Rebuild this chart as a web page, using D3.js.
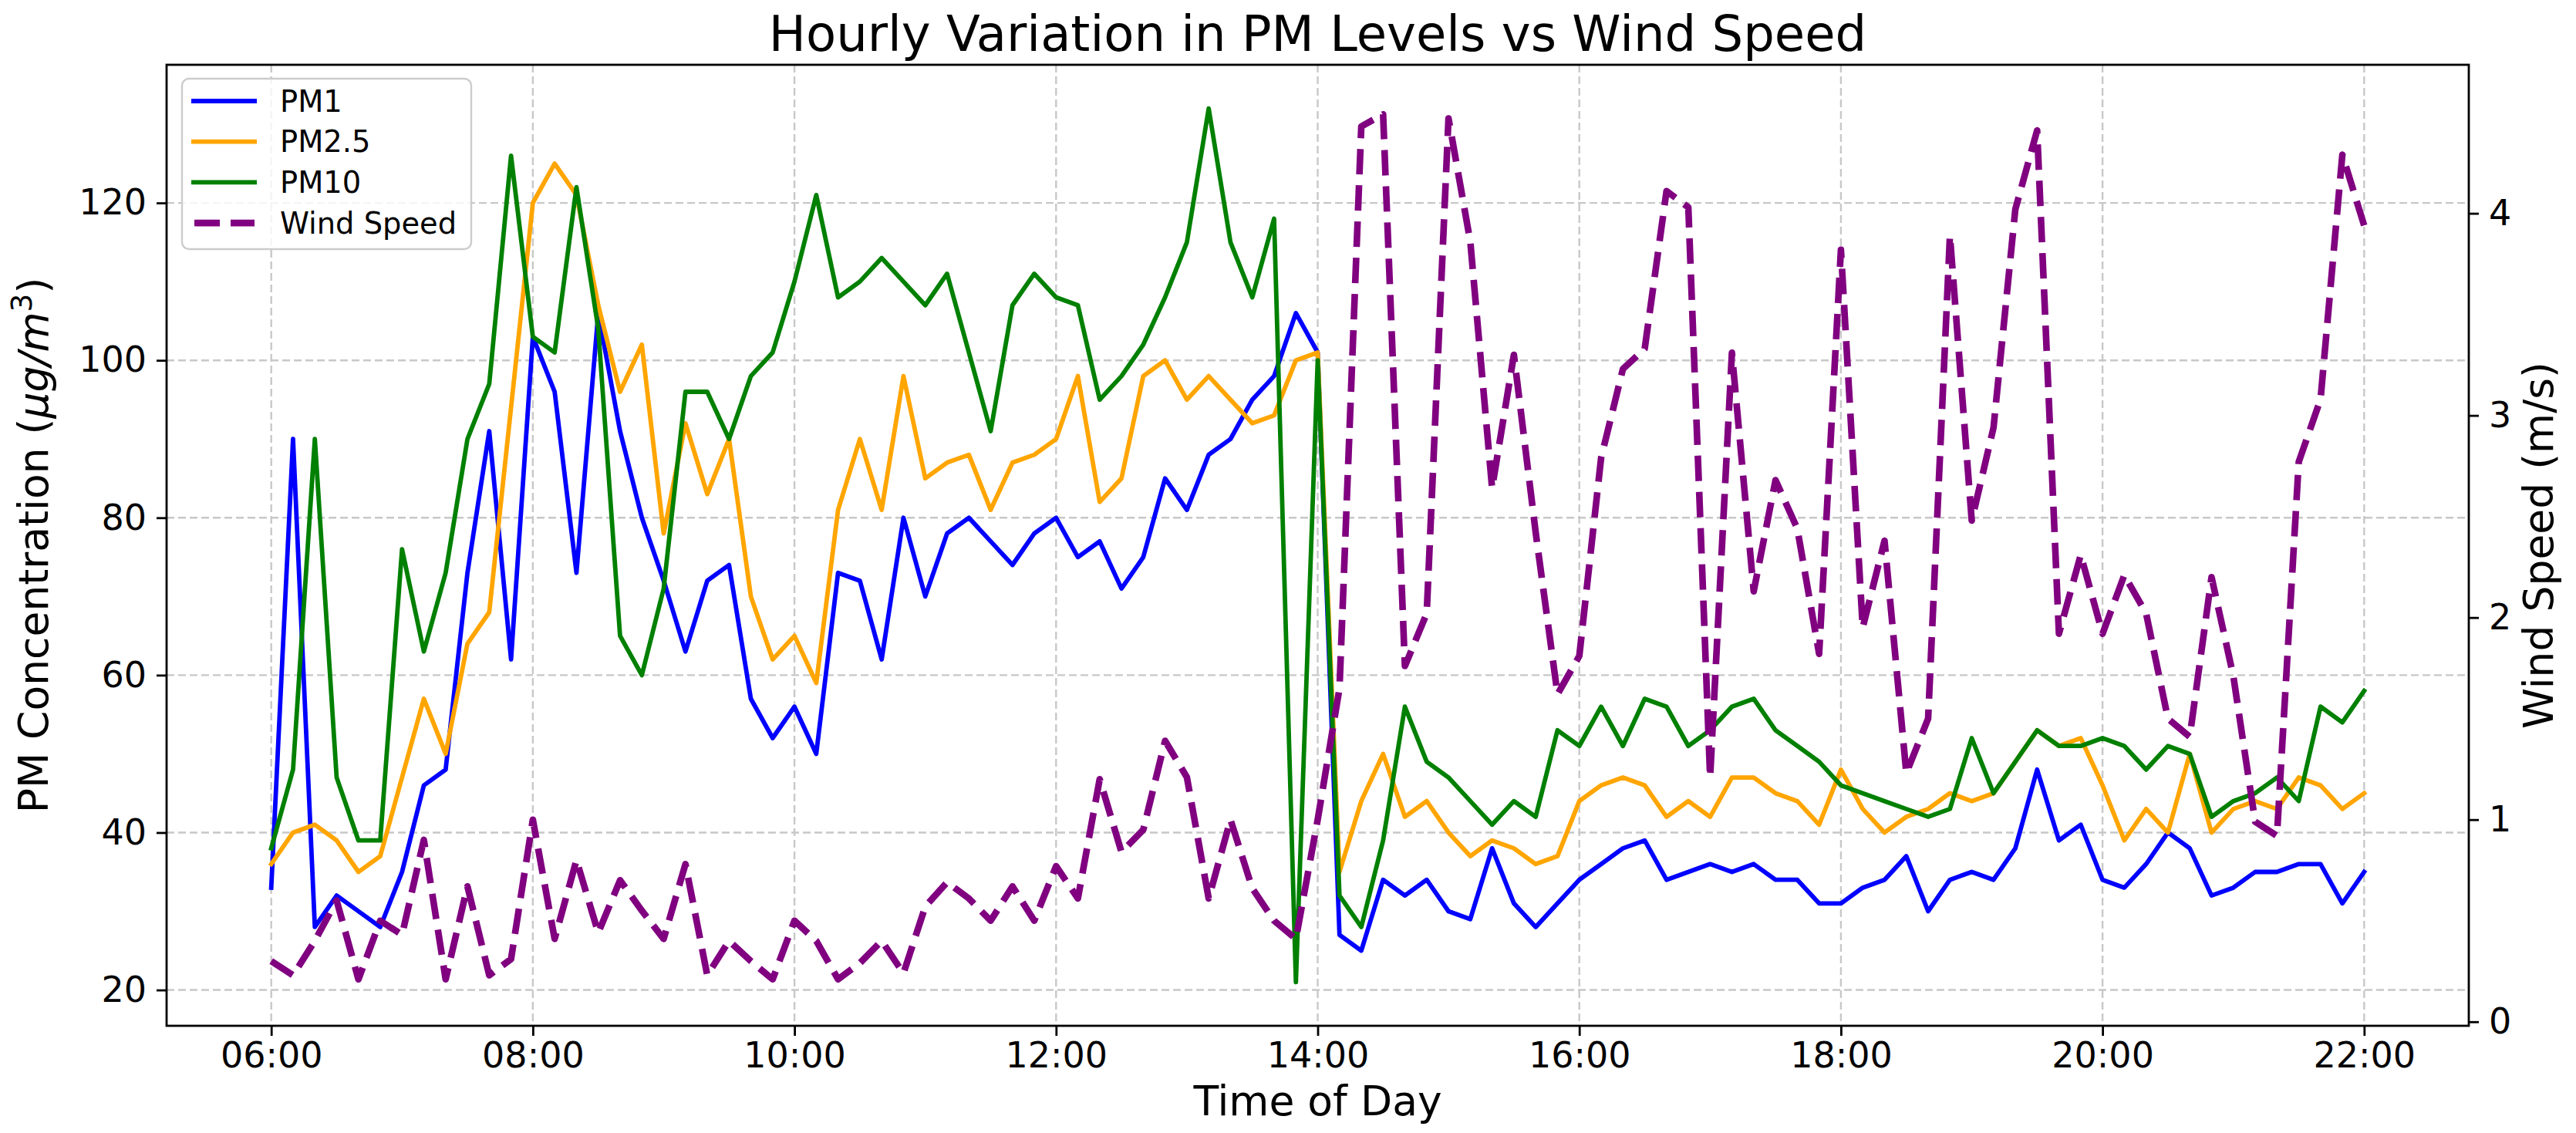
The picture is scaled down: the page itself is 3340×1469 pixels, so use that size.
<!DOCTYPE html>
<html><head><meta charset="utf-8">
<script src="https://cdn.jsdelivr.net/npm/d3@7"></script>
<style>html,body{margin:0;padding:0;background:#fff;} svg{display:block;font-family:"DejaVu Sans",sans-serif;}</style>
</head><body><svg id="c" width="3340" height="1469"></svg>
<script>
// ---- data (10-minute readings from 06:00 to 22:00) ----
const startTime = "06:00";
const stepMinutes = 10;
const xTickLabels = ["06:00","08:00","10:00","12:00","14:00","16:00","18:00","20:00","22:00"];
const leftTicks = [20,40,60,80,100,120];
const rightTicks = [0,1,2,3,4];
const seriesNames = ["PM1","PM2.5","PM10","Wind Speed"];
const pm1 = [33,90,28,32,30,28,35,46,48,73,91,62,103,
  96,73,106,91,80,72,63,72,74,57,52,56,
  50,73,72,62,80,70,78,80,77,74,78,80,
  75,77,71,75,85,81,88,90,95,98,106,101,
  27,25,34,32,34,30,29,38,31,28,31,34,
  36,38,39,34,35,36,35,36,34,34,31,31,
  33,34,37,30,34,35,34,38,48,39,41,34,
  33,36,40,38,32,33,35,35,36,36,31,35];
const pm25 = [36,40,41,39,35,37,47,57,50,64,68,94,120,
  125,121,107,96,102,78,92,83,90,70,62,65,
  59,81,90,81,98,85,87,88,81,87,88,90,
  98,82,85,98,100,95,98,95,92,93,100,101,
  35,44,50,42,44,40,37,39,38,36,37,44,
  46,47,46,42,44,42,47,47,45,44,41,48,
  43,40,42,43,45,44,45,49,53,51,52,46,
  39,43,40,50,40,43,44,43,47,46,43,45];
const pm10 = [38,48,90,47,39,39,76,63,73,90,97,126,103,
  101,122,104,65,60,71,96,96,90,98,101,110,
  121,108,110,113,110,107,111,101,91,107,111,108,
  107,95,98,102,108,115,132,115,108,118,21,100,
  32,28,39,56,49,47,44,41,44,42,53,51,
  56,51,57,56,51,53,56,57,53,51,49,46,
  45,44,43,42,43,52,45,49,53,51,51,52,
  51,48,51,50,42,44,45,47,44,56,54,58];
const wind = [0.30,0.23,0.40,0.60,0.21,0.50,0.43,0.90,0.21,0.67,0.23,0.31,1.00,
  0.41,0.80,0.44,0.70,0.55,0.41,0.78,0.23,0.40,0.30,0.21,0.50,
  0.40,0.21,0.29,0.40,0.24,0.57,0.69,0.61,0.50,0.67,0.50,0.77,
  0.61,1.20,0.84,0.95,1.39,1.21,0.61,1.00,0.66,0.50,0.41,1.00,
  1.65,4.43,4.49,1.76,2.02,4.47,3.86,2.64,3.30,2.42,1.62,1.81,
  2.79,3.23,3.33,4.11,4.03,1.21,3.31,2.13,2.68,2.44,1.82,3.82,
  1.95,2.38,1.23,1.50,3.89,2.48,2.94,4.02,4.41,1.92,2.31,1.92,
  2.21,2.02,1.50,1.41,2.20,1.71,0.99,0.92,2.77,3.08,4.29,3.94];
const rightDomain = [-0.02, 4.735];

// ---- layout ----
const L = 216, R = 3201, T = 84, B = 1330;
const colors = {"PM1":"#0000ff","PM2.5":"#ffa500","PM10":"#008000","Wind Speed":"#800080"};
const FT = 46, FL = 53.5, FTitle = 64, FLeg = 38.4;

const parse = d3.timeParse("%H:%M");
const t0 = parse(startTime);
const times = pm1.map((_, i) => d3.timeMinute.offset(t0, i * stepMinutes));
const tEnd = times[times.length - 1];
const span = tEnd - t0;
const x = d3.scaleTime().domain([new Date(+t0 - span*0.05), new Date(+tEnd + span*0.05)]).range([L, R]);
const allPM = pm1.concat(pm25, pm10);
const [mn, mx] = d3.extent(allPM);
const yL = d3.scaleLinear().domain([mn - (mx-mn)*0.05, mx + (mx-mn)*0.05]).range([B, T]);
const yR = d3.scaleLinear().domain(rightDomain).range([B, T]);

const svg = d3.select("#c");
svg.append("rect").attr("width",3340).attr("height",1469).attr("fill","#fff");

// grid
const grid = svg.append("g").attr("stroke","#c8c8c8").attr("stroke-width",2.4).attr("stroke-dasharray","10,5");
grid.selectAll("line.h").data(leftTicks).join("line").attr("class","h")
  .attr("x1",L).attr("x2",R).attr("y1",d=>yL(d)).attr("y2",d=>yL(d));
grid.selectAll("line.v").data(xTickLabels).join("line").attr("class","v")
  .attr("y1",T).attr("y2",B).attr("x1",d=>x(parse(d))).attr("x2",d=>x(parse(d)));

// lines
const lineL = d3.line().x((d,i)=>x(times[i])).y(d=>yL(d));
const lineR = d3.line().x((d,i)=>x(times[i])).y(d=>yR(d));
const plot = svg.append("g");
[["PM1",pm1],["PM2.5",pm25],["PM10",pm10]].forEach(([n,arr])=>{
  plot.append("path").attr("d",lineL(arr)).attr("fill","none").attr("stroke",colors[n])
    .attr("stroke-width",5.8).attr("stroke-linejoin","round").attr("stroke-linecap","square");
});
plot.append("path").attr("d",lineR(wind)).attr("fill","none").attr("stroke",colors["Wind Speed"])
  .attr("stroke-width",8.6).attr("stroke-dasharray","33,14").attr("stroke-linejoin","round");

// axes
function styleAxis(g){
  g.select(".domain").remove();
  g.selectAll(".tick line").attr("stroke","#000").attr("stroke-width",2.8);
  g.selectAll(".tick text").attr("font-size",FT).attr("fill","#000").attr("font-family","DejaVu Sans");
}
svg.append("g").attr("transform",`translate(0,${B})`)
  .call(d3.axisBottom(x).tickValues(xTickLabels.map(parse)).tickFormat(d3.timeFormat("%H:%M")).tickSize(13).tickPadding(8))
  .call(styleAxis);
svg.append("g").attr("transform",`translate(${L},0)`)
  .call(d3.axisLeft(yL).tickValues(leftTicks).tickFormat(d3.format("d")).tickSize(13).tickPadding(13))
  .call(styleAxis);
svg.append("g").attr("transform",`translate(${R},0)`)
  .call(d3.axisRight(yR).tickValues(rightTicks).tickFormat(d3.format("d")).tickSize(13).tickPadding(13))
  .call(styleAxis);

// spines
svg.append("rect").attr("x",L).attr("y",T).attr("width",R-L).attr("height",B-T)
  .attr("fill","none").attr("stroke","#000").attr("stroke-width",2.8);

// labels
svg.append("text").attr("x",(L+R)/2).attr("y",66).attr("text-anchor","middle").attr("font-size",FTitle)
  .text("Hourly Variation in PM Levels vs Wind Speed");
svg.append("text").attr("x",(L+R)/2).attr("y",1446).attr("text-anchor","middle").attr("font-size",FL)
  .text("Time of Day");
const ll = svg.append("text").attr("transform",`translate(62,${(T+B)/2}) rotate(-90)`).attr("text-anchor","middle").attr("font-size",FL);
ll.append("tspan").text("PM Concentration (");
ll.append("tspan").attr("font-style","italic").text("μg/m");
ll.append("tspan").attr("font-size",FL*0.7).attr("dy",-FL*0.4).text("3");
ll.append("tspan").attr("dy",FL*0.4).text(")");
svg.append("text").attr("transform",`translate(3310,${(T+B)/2}) rotate(-90)`).attr("text-anchor","middle").attr("font-size",FL)
  .text("Wind Speed (m/s)");

// legend
const lg = svg.append("g");
lg.append("rect").attr("x",236).attr("y",102).attr("width",375).attr("height",221).attr("rx",9)
  .attr("fill","#fff").attr("fill-opacity",0.8).attr("stroke","#cccccc").attr("stroke-width",2.4);
seriesNames.forEach((n,i)=>{
  const cy = 131 + i*52.7;
  const ln = lg.append("line").attr("x1",248).attr("x2",333).attr("y1",cy).attr("y2",cy)
    .attr("stroke",colors[n]).attr("stroke-width", n==="Wind Speed"?8.6:5.8);
  if(n==="Wind Speed") ln.attr("x1",252).attr("x2",330).attr("stroke-dasharray","33,14");
  lg.append("text").attr("x",363).attr("y",cy+13.5).attr("font-size",FLeg).text(n);
});
</script></body></html>
